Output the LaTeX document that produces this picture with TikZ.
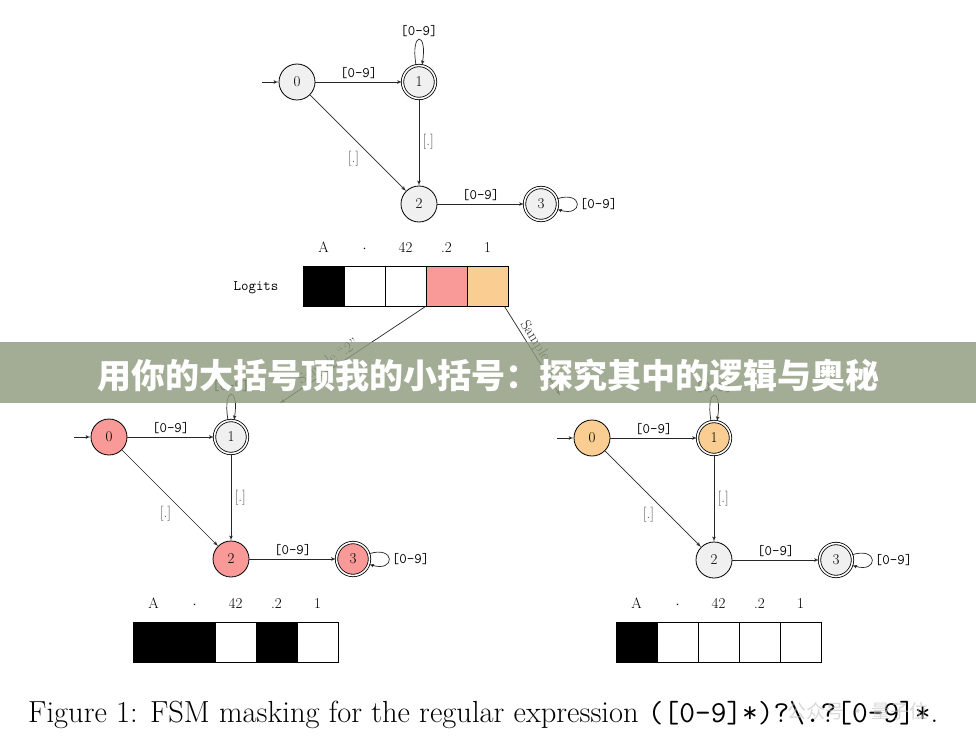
\documentclass[tikz,border=0pt]{standalone}
\usepackage{fontspec}
\usepackage{xcolor}
\usepackage{tikz}
\usetikzlibrary{shapes,arrows,positioning}
\newfontfamily\cjk{Noto Sans CJK SC}

\definecolor{statefill}{HTML}{F0F0F0}
\definecolor{pinkfill}{HTML}{F99A98}
\definecolor{orangefill}{HTML}{FACD93}
\definecolor{bannerfill}{HTML}{8F9B7E}

\tikzstyle{state} = [circle, draw, fill=statefill, minimum size=36pt,
    inner sep=0pt, line width=0.8pt, font=\fontsize{15}{17}\selectfont]
\tikzstyle{accept} = [state, minimum size=33pt, double, double distance=1.6pt]
\tikzstyle{line} = [draw, -latex', line width=0.7pt, black!85]
\tikzstyle{tlabel} = [font=\ttfamily\fontsize{14.5}{16}\selectfont, text=black, inner sep=2.5pt]
\tikzstyle{sq} = [font=\fontsize{15}{17}\selectfont, text=black!70]
\tikzstyle{cell} = [rectangle, draw, minimum width=41pt, minimum height=40pt,
    line width=1pt, inner sep=0pt]
\tikzstyle{lbl} = [font=\fontsize{15}{17}\selectfont, text height=10pt, text depth=0pt]

\begin{document}
\begin{tikzpicture}[x=1pt, y=-1pt, node distance=122pt]
    \useasboundingbox (0,0) rectangle (976,746);

    % Top automaton
    \node [state] (a0) at (297,82) {0};
    \node [accept, right of=a0] (a1) {1};
    \node [state, below of=a1] (a2) {2};
    \node [accept, right of=a2] (a3) {3};
    \coordinate [left of=a0, node distance=35pt] (ain);

    \path [line] (ain) -- (a0);
    \path [line] (a0) -- node [tlabel, above] {[0-9]} (a1);
    \path [line] (a0) -- node [sq, below left, pos=0.55] {[.]} (a2);
    \path [line] (a1) -- node [sq, right] {[.]} (a2);
    \path [line] (a2) -- node [tlabel, above] {[0-9]} (a3);
    \path [line] (a1) to [out=100, in=80, min distance=35pt] node [tlabel, above] {[0-9]} (a1);
    \path [line] (a3) to [out=18, in=-18, min distance=28pt] node [tlabel, right] {[0-9]} (a3);

    % Logits
    \node [font=\ttfamily\fontsize{14.5}{16}\selectfont] (logits) at (256,288) {Logits};
    \begin{scope}[node distance=41pt]
    \node [cell, fill=black] (t1) at (323.5,286) {};
    \node [cell, right of=t1] (t2) {};
    \node [cell, right of=t2] (t3) {};
    \node [cell, fill=pinkfill, right of=t3] (t4) {};
    \node [cell, fill=orangefill, right of=t4] (t5) {};
    \end{scope}
    \begin{scope}[node distance=39pt]
    \node [lbl, above of=t1] {A};
    \node [lbl, above of=t2] {$\cdot$};
    \node [lbl, above of=t3] {42};
    \node [lbl, above of=t4] {.2};
    \node [lbl, above of=t5] {1};
    \end{scope}

    % Sampling
    \coordinate (sl) at (280,403);
    \coordinate (sr) at (560,395);
    \path [line] (t4.south west) -- node [lbl, above, sloped, pos=0.64] {Sample “.2”} (sl);
    \path [line] ([xshift=-4pt]t5.south east) -- node [lbl, above, sloped, pos=0.55] {Sample “1”} (sr);

    % Automaton after ".2"
    \node [state, fill=pinkfill] (b0) at (109,437) {0};
    \node [accept, right of=b0] (b1) {1};
    \node [state, fill=pinkfill, below of=b1] (b2) {2};
    \node [accept, fill=pinkfill, right of=b2] (b3) {3};
    \coordinate [left of=b0, node distance=35pt] (bin);

    \path [line] (bin) -- (b0);
    \path [line] (b0) -- node [tlabel, above] {[0-9]} (b1);
    \path [line] (b0) -- node [sq, below left, pos=0.55] {[.]} (b2);
    \path [line] (b1) -- node [sq, right] {[.]} (b2);
    \path [line] (b2) -- node [tlabel, above] {[0-9]} (b3);
    \path [line] (b1) to [out=100, in=80, min distance=35pt] node [tlabel, above] {[0-9]} (b1);
    \path [line] (b3) to [out=18, in=-18, min distance=28pt] node [tlabel, right] {[0-9]} (b3);

    % Automaton after "1"
    \node [state, fill=orangefill] (c0) at (592,438) {0};
    \node [accept, fill=orangefill, right of=c0] (c1) {1};
    \node [state, below of=c1] (c2) {2};
    \node [accept, right of=c2] (c3) {3};
    \coordinate [left of=c0, node distance=35pt] (cin);

    \path [line] (cin) -- (c0);
    \path [line] (c0) -- node [tlabel, above] {[0-9]} (c1);
    \path [line] (c0) -- node [sq, below left, pos=0.55] {[.]} (c2);
    \path [line] (c1) -- node [sq, right] {[.]} (c2);
    \path [line] (c2) -- node [tlabel, above] {[0-9]} (c3);
    \path [line] (c1) to [out=100, in=80, min distance=35pt] node [tlabel, above] {[0-9]} (c1);
    \path [line] (c3) to [out=18, in=-18, min distance=28pt] node [tlabel, right] {[0-9]} (c3);

    % Masks
    \begin{scope}[node distance=41pt]
    \node [cell, fill=black] (m1) at (153.5,642) {};
    \node [cell, fill=black, right of=m1] (m2) {};
    \node [cell, right of=m2] (m3) {};
    \node [cell, fill=black, right of=m3] (m4) {};
    \node [cell, right of=m4] (m5) {};
    \node [cell, fill=black] (n1) at (636.5,642) {};
    \node [cell, right of=n1] (n2) {};
    \node [cell, right of=n2] (n3) {};
    \node [cell, right of=n3] (n4) {};
    \node [cell, right of=n4] (n5) {};
    \end{scope}
    \begin{scope}[node distance=39pt]
    \node [lbl, above of=m1] {A};
    \node [lbl, above of=m2] {$\cdot$};
    \node [lbl, above of=m3] {42};
    \node [lbl, above of=m4] {.2};
    \node [lbl, above of=m5] {1};
    \node [lbl, above of=n1] {A};
    \node [lbl, above of=n2] {$\cdot$};
    \node [lbl, above of=n3] {42};
    \node [lbl, above of=n4] {.2};
    \node [lbl, above of=n5] {1};
    \end{scope}

    % Caption
    \node [anchor=base west, inner sep=0pt] (caption) at (28,722)
        {\fontsize{30.5}{34}\selectfont Figure 1: FSM masking for the regular expression
        \texttt{([0-9]*)?\textbackslash.?[0-9]*}.};
    \node [text=black!25, opacity=0.6, inner sep=0pt] (mark) at (858,711)
        {\cjk\fontsize{19}{22}\selectfont 公众号 · 量子位};

    % Banner
    \fill [bannerfill, opacity=0.82] (0,342) rectangle (976,403);
    \node [text=white] (title) at (488,376)
        {\cjk\bfseries\fontsize{34}{40}\selectfont 用你的大括号顶我的小括号：探究其中的逻辑与奥秘};
\end{tikzpicture}
\end{document}
